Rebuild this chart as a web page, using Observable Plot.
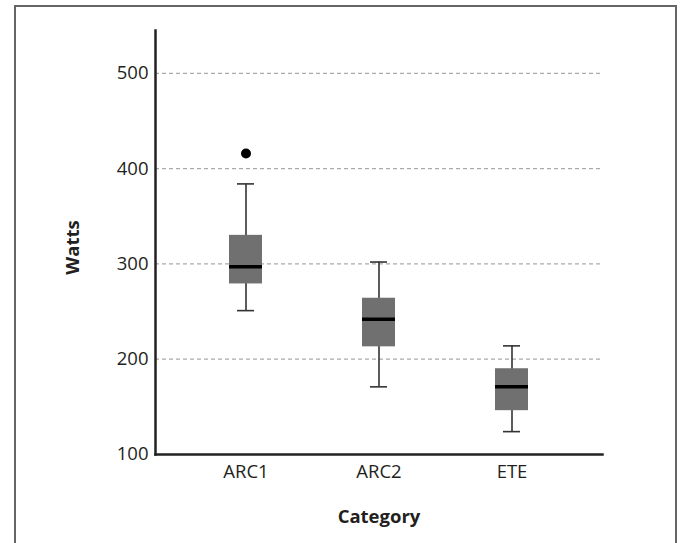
<!DOCTYPE html>
<html>
<head>
<meta charset="utf-8">
<script src="https://cdn.jsdelivr.net/npm/d3@7"></script>
<script src="https://cdn.jsdelivr.net/npm/@observablehq/plot@0.6"></script>
<style>
  html, body { margin: 0; padding: 0; background: #fff; }
  #wrap { position: relative; width: 683px; height: 543px; overflow: hidden; }
  #border { position: absolute; left: 14px; top: 5px; width: 663px; height: 600px; border: 2px solid #666; box-sizing: border-box; }
  #chart { position: absolute; left: 0; top: 0; }
</style>
</head>
<body>
<div id="wrap"><div id="border"></div><div id="chart"></div></div>
<script>
const categories = ["ARC1", "ARC2", "ETE"];
const lowWhisker = [251, 171, 124];
const q1 = [279, 213, 146];
const median = [297, 242, 171];
const q3 = [330, 264, 190];
const highWhisker = [384, 302, 214];
const outlierCategory = ["ARC1"];
const outlierValue = [416];
const yTicks = [100, 200, 300, 400, 500];
const gridTicks = [200, 300, 400, 500];

const stats = categories.map((c, i) => ({
  cat: c, lo: lowWhisker[i], q1: q1[i], med: median[i], q3: q3[i], hi: highWhisker[i]
}));
const outliers = outlierCategory.map((c, i) => ({cat: c, v: outlierValue[i]}));

const font = "'Open Sans', sans-serif";
const ink = "#231f20";

const plot = Plot.plot({
  width: 683,
  height: 543,
  marginLeft: 155,
  marginRight: 81,
  marginTop: 30,
  marginBottom: 89,
  style: {fontFamily: font, fontSize: "18px", color: ink, background: "transparent"},
  x: {domain: categories, paddingInner: 0.754, paddingOuter: 0.545, label: null},
  y: {domain: [100, 545], label: null},
  marks: [
    Plot.ruleY(gridTicks, {stroke: "#aaa", strokeWidth: 1.2, strokeDasharray: "4,3"}),
    Plot.ruleX(stats, {x: "cat", y1: "lo", y2: "hi", stroke: "#333", strokeWidth: 1.6}),
    Plot.tickY(stats, {x: "cat", y: "lo", stroke: "#333", strokeWidth: 1.6, insetLeft: 8, insetRight: 8}),
    Plot.tickY(stats, {x: "cat", y: "hi", stroke: "#333", strokeWidth: 1.6, insetLeft: 8, insetRight: 8}),
    Plot.barY(stats, {x: "cat", y1: "q1", y2: "q3", fill: "#707070"}),
    Plot.tickY(stats, {x: "cat", y: "med", stroke: "#000", strokeWidth: 3.5}),
    Plot.dot(outliers, {x: "cat", y: "v", r: 5, fill: "#000"}),
    Plot.axisY({ticks: yTicks, tickSize: 0, tickPadding: 7, fontSize: 18.5, fill: ink, label: null}),
    Plot.axisX({tickSize: 0, tickPadding: 10, fontSize: 18.5, fill: ink, label: null}),
    Plot.frame({anchor: "left", stroke: "#222", strokeWidth: 2.5}),
    Plot.frame({anchor: "bottom", stroke: "#222", strokeWidth: 2.5}),
    Plot.text(["Watts"], {frameAnchor: "left", textAnchor: "middle", dx: -82, dy: 5, rotate: -90, fontWeight: "bold", fontSize: 18.5, fill: ink}),
    Plot.text(["Category"], {frameAnchor: "bottom", lineAnchor: "middle", dy: 63, fontWeight: "bold", fontSize: 18.5, fill: ink})
  ]
});
document.getElementById("chart").appendChild(plot);
</script>
</body>
</html>
